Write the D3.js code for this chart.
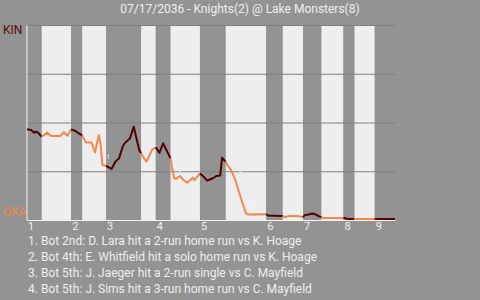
<!DOCTYPE html>
<html lang="en">
  <head>
    <meta charset="utf-8">
    <title>Win probability - Knights @ Lake Monsters</title>
    <style>
        body { margin: 0; background: #939393; }
        svg { display: block; }
        text { font-family: 'Roboto', sans-serif; }
        .title { font-size: 12px; fill: #eeeeee; }
        .note { font-size: 12px; fill: #eeeeee; }
        .axis text { font-size: 11px; fill: #eeeeee; }
    </style>
  </head>
  <body>
    <div id="viz"></div>
    <script src="https://d3js.org/d3.v7.min.js"></script>
    <script>
        const title = "07/17/2036 - Knights(2) @ Lake Monsters(8)";
        const awayTeam = "KIN", homeTeam = "OKA";

        // pitch number where each half inning starts (top 1st ... top 9th), game ends at lastPitch
        const halfStarts = [0, 8, 24, 30, 43, 62, 70, 78, 94, 108, 130, 139, 150, 160, 172, 178, 189];
        const lastPitch = 200;
        const innings = ["1", "2", "3", "4", "5", "6", "7", "8", "9"];

        // home team (OKA) win probability by pitch
        const pitchNo = [0, 2, 4, 5, 6, 8, 11, 13, 18, 20, 22, 24, 26, 28, 30,
          32, 35, 37, 38, 39, 40, 41, 43, 46, 48, 50, 52, 53, 56, 58, 61, 62,
          64, 65, 67, 68, 70, 72, 74, 78, 79, 80, 81, 83, 85, 87, 90, 91, 94,
          96, 98, 101, 103, 105, 106, 108, 109, 111, 113, 115, 117, 119, 120, 130,
          131, 134, 139, 140, 143, 147, 150, 151, 153, 155, 157, 158, 160,
          161, 172, 173, 174, 178, 189, 200];
        const homeWinProb = [0.535, 0.538, 0.552, 0.547, 0.552, 0.573, 0.552, 0.569, 0.569, 0.55, 0.568, 0.535, 0.542, 0.555, 0.566,
          0.602, 0.602, 0.653, 0.61, 0.565, 0.61, 0.718, 0.722, 0.738, 0.701, 0.684, 0.624, 0.607, 0.581, 0.522, 0.641, 0.658,
          0.69, 0.70, 0.66, 0.64, 0.627, 0.655, 0.607, 0.684, 0.74, 0.786, 0.79, 0.774, 0.795, 0.809, 0.783, 0.795, 0.761,
          0.778, 0.798, 0.786, 0.774, 0.772, 0.681, 0.701, 0.72, 0.745, 0.79, 0.85, 0.91, 0.965, 0.972, 0.97,
          0.977, 0.978, 0.98, 0.985, 0.98, 0.98, 0.985, 0.975, 0.972, 0.967, 0.972, 0.978, 0.985,
          0.99, 0.99, 0.99, 0.995, 0.995, 0.995, 0.995];

        const notes = [
          "1. Bot 2nd: D. Lara hit a 2-run home run vs K. Hoage",
          "2. Bot 4th: E. Whitfield hit a solo home run vs K. Hoage",
          "3. Bot 5th: J. Jaeger hit a 2-run single vs C. Mayfield",
          "4. Bot 5th: J. Sims hit a 3-run home run vs C. Mayfield"
        ];
        const notePitch = [41, 80, 113, 119];

        const width = 480, height = 300;
        const margin = { top: 25, left: 27, right: 85, bottom: 80 };

        const svg = d3.select("#viz").append("svg")
          .attr("width", width).attr("height", height);

        const x = d3.scaleLinear().domain([0, lastPitch]).range([margin.left, width - margin.right]);
        const y = d3.scaleLinear().domain([0, 1]).range([margin.top, height - margin.bottom]);

        const data = pitchNo.map((p, i) => ({ pitch: p, prob: homeWinProb[i] }));
        const halves = halfStarts.map((s, i) => ({
          start: s,
          end: i < halfStarts.length - 1 ? halfStarts[i + 1] : lastPitch,
          bottom: i % 2 === 1
        }));

        // half inning bands
        svg.append("g").selectAll("rect")
          .data(halves)
          .join("rect")
          .attr("x", d => x(d.start))
          .attr("width", d => x(d.end) - x(d.start))
          .attr("y", y(0))
          .attr("height", y(1) - y(0))
          .attr("fill", d => d.bottom ? "#eeeeee" : "#939393");

        // grid
        svg.append("g").selectAll("line")
          .data([0, 0.25, 0.5, 0.75])
          .join("line")
          .attr("x1", x(0)).attr("x2", x(lastPitch))
          .attr("y1", d => y(d) + 0.5).attr("y2", d => y(d) + 0.5)
          .attr("stroke", "#7f7f7f");

        // axes
        svg.append("g")
          .attr("class", "axis")
          .attr("transform", `translate(0,${y(1)})`)
          .call(d3.axisBottom(x)
            .tickValues(halfStarts.filter((d, i) => i % 2 === 0))
            .tickFormat((d, i) => innings[i])
            .tickSize(0).tickPadding(2))
          .call(g => g.select(".domain").attr("stroke", "#f4f4f4"))
          .call(g => g.selectAll("text").attr("text-anchor", "start").attr("dx", 0.5));

        svg.append("g")
          .attr("class", "axis")
          .attr("transform", `translate(${x(0) - 0.5},0)`)
          .call(d3.axisLeft(y).tickValues([]).tickSizeOuter(0))
          .call(g => g.select(".domain").attr("stroke", "#f4f4f4"));

        // win probability line, coloured by half inning
        const line = d3.line().x(d => x(d.pitch)).y(d => y(d.prob));
        svg.append("g").selectAll("path")
          .data(halves)
          .join("path")
          .attr("d", h => line(data.filter(d => d.pitch >= h.start && d.pitch <= h.end)))
          .attr("fill", "none")
          .attr("stroke", h => h.bottom ? "#f4874b" : "#520000")
          .attr("stroke-width", 2)
          .attr("stroke-linejoin", "round");

        // tiny event markers
        svg.append("g").selectAll("text")
          .data(notePitch)
          .join("text")
          .attr("x", d => x(d) + 4)
          .attr("y", d => y(data.find(p => p.pitch === d).prob) - 6)
          .attr("font-size", 6)
          .attr("fill", "#f4f4f4")
          .text((d, i) => i + 1);

        svg.append("text").attr("class", "title")
          .attr("x", width / 2).attr("y", 12.5)
          .attr("text-anchor", "middle")
          .text(title);

        svg.append("text").attr("x", 3).attr("y", 34)
          .attr("font-size", 12).attr("fill", "#5c0a0a").text(awayTeam);
        svg.append("text").attr("x", 3).attr("y", 216)
          .attr("font-size", 12).attr("fill", "#f4874b").text(homeTeam);

        svg.append("g").selectAll("text")
          .data(notes)
          .join("text")
          .attr("class", "note")
          .attr("x", 28)
          .attr("y", (d, i) => 245 + i * 16)
          .text(d => d);
    </script>
  </body>
</html>
